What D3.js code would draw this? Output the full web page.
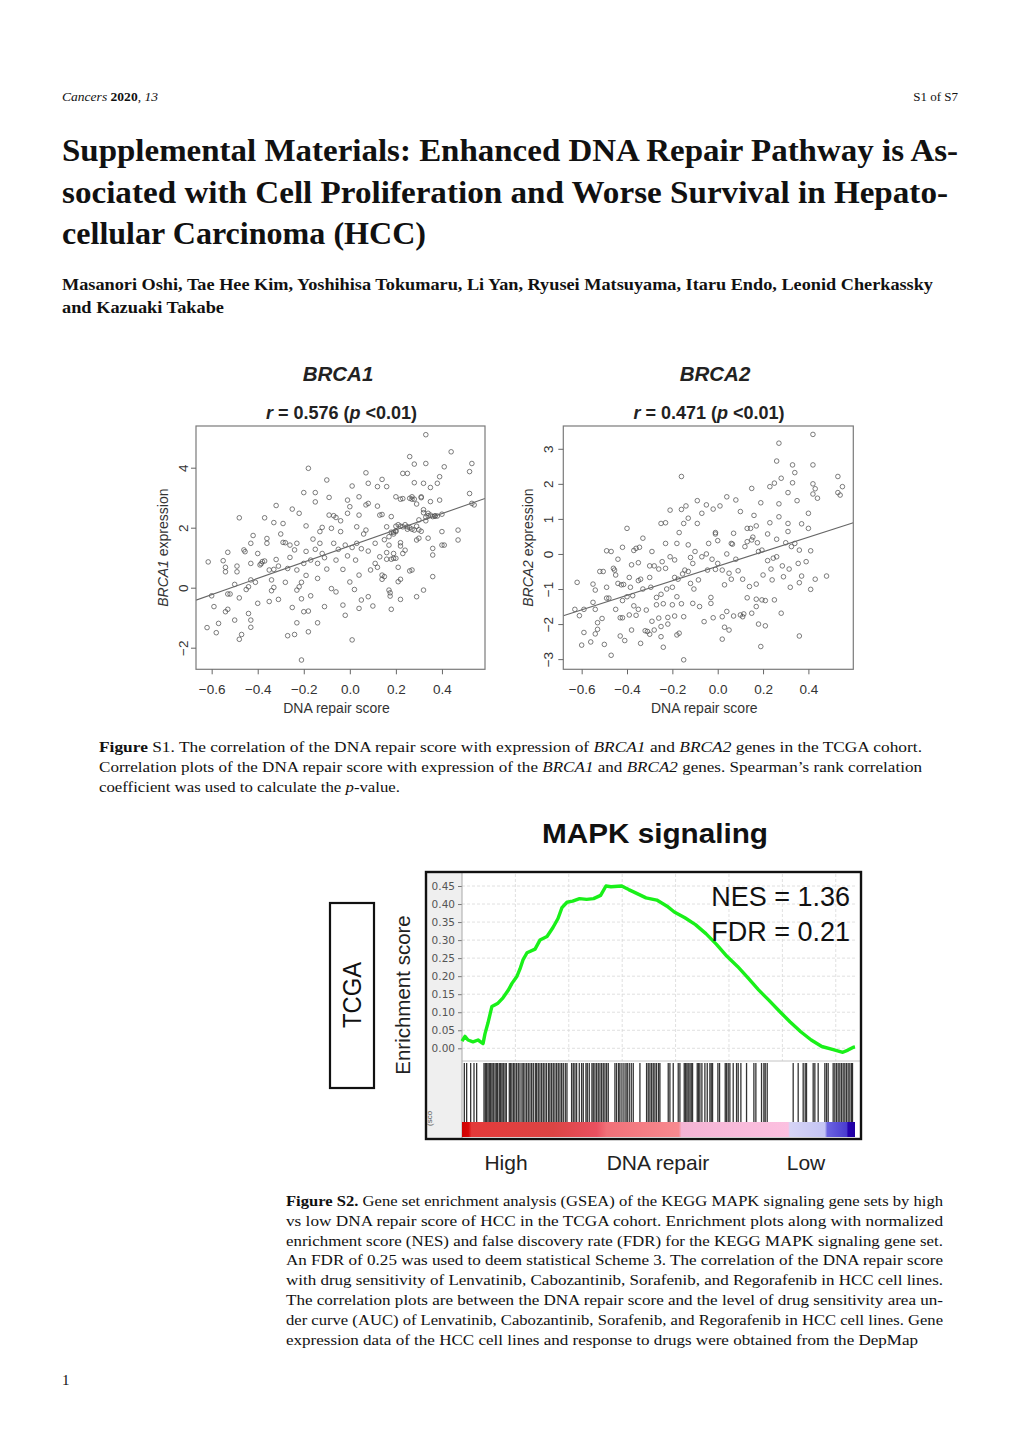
<!DOCTYPE html>
<html><head><meta charset="utf-8">
<script src="https://cdn.jsdelivr.net/npm/d3@7"></script>
<style>body{margin:0;background:#fff} svg{display:block}</style>
</head><body>
<script>
// ---------------- DATA ----------------
const brca1Points = [[-0.615,0.86],[-0.60,-0.27],[-0.59,-0.63],[-0.62,-1.33],[-0.58,-1.5],[-0.57,-1.19],[-0.55,0.9],[-0.54,0.53],[-0.54,0.68],[-0.53,1.18],[-0.53,-0.21],[-0.52,-0.21],[-0.53,-0.72],[-0.54,-0.8],[-0.50,0.11],[-0.49,0.72],[-0.49,0.53],[-0.48,-1.72],[-0.48,2.33],[-0.48,-0.34],[-0.50,-1.08],[-0.47,-1.56],[-0.46,1.26],[-0.455,1.2],[-0.45,-0.06],[-0.44,0.03],[-0.44,-0.86],[-0.43,1.48],[-0.43,0.81],[-0.43,0.26],[-0.43,-1.08],[-0.43,-1.32],[-0.42,1.74],[-0.41,0.18],[-0.40,-0.52],[-0.40,1.14],[-0.39,0.76],[-0.38,0.87],[-0.385,0.8],[-0.37,2.33],[-0.37,0.89],[-0.36,1.48],[-0.36,1.64],[-0.35,0.59],[-0.35,-0.46],[-0.34,0.26],[-0.34,-0.1],[-0.33,0.01],[-0.33,0.61],[-0.32,2.74],[-0.33,2.17],[-0.32,0.94],[-0.31,0.72],[-0.31,-0.39],[-0.30,1.79],[-0.29,1.51],[-0.29,2.14],[-0.28,0.18],[-0.28,1.5],[-0.27,-1.6],[-0.27,0.64],[-0.26,1.42],[-0.26,1.01],[-0.25,-0.66],[-0.25,2.62],[-0.24,1.26],[-0.24,-1.56],[-0.23,0.59],[-0.23,1.48],[-0.23,-0.08],[-0.23,-1.17],[-0.22,2.48],[-0.22,0.03],[-0.21,0.18],[-0.21,-2.41],[-0.21,-0.37],[-0.20,3.17],[-0.20,0.81],[-0.20,-0.8],[-0.19,2.06],[-0.19,0.41],[-0.19,1.21],[-0.18,3.98],[-0.18,-0.78],[-0.18,-1.47],[-0.17,0.92],[-0.17,-0.27],[-0.16,1.62],[-0.15,2.86],[-0.15,3.17],[-0.15,1.28],[-0.14,0.31],[-0.14,-1.17],[-0.14,0.81],[-0.13,1.87],[-0.13,1.48],[-0.12,2.01],[-0.12,1.14],[-0.11,1.0],[-0.11,-0.63],[-0.10,0.62],[-0.10,3.59],[-0.09,2.42],[-0.09,3.01],[-0.08,1.98],[-0.08,-0.03],[-0.07,2.4],[-0.07,1.48],[-0.06,-0.14],[-0.06,2.34],[-0.06,0.92],[-0.05,1.28],[-0.04,1.87],[-0.04,2.23],[-0.03,-0.58],[-0.03,0.61],[-0.02,1.42],[-0.02,-0.92],[-0.01,2.48],[-0.01,2.92],[-0.01,1.06],[0.0,0.19],[0.0,2.7],[0.01,1.34],[0.01,3.39],[0.01,-1.74],[0.02,-0.06],[0.025,0.92],[0.03,1.48],[0.03,2.03],[0.04,3.03],[0.04,2.42],[0.04,0.42],[0.04,-0.69],[0.05,1.3],[0.05,-0.41],[0.06,1.79],[0.07,2.76],[0.07,3.83],[0.07,1.92],[0.08,-0.3],[0.08,3.48],[0.08,2.81],[0.08,1.22],[0.09,0.59],[0.10,-0.61],[0.11,0.81],[0.11,1.48],[0.12,2.72],[0.12,3.37],[0.13,2.42],[0.13,1.03],[0.14,0.42],[0.14,3.61],[0.14,2.44],[0.15,0.37],[0.16,3.37],[0.16,1.17],[0.16,2.03],[0.17,-0.08],[0.17,1.42],[0.175,-0.17],[0.18,-0.72],[0.175,-0.28],[0.18,2.37],[0.19,1.79],[0.19,1.14],[0.20,3.03],[0.20,0.98],[0.20,1.87],[0.21,0.2],[0.22,1.39],[0.22,-0.39],[0.22,1.5],[0.23,3.81],[0.23,1.14],[0.23,2.03],[0.24,1.25],[0.25,2.03],[0.25,3.81],[0.26,2.98],[0.26,0.56],[0.26,4.37],[0.27,3.03],[0.27,0.59],[0.28,3.5],[0.28,1.92],[0.28,4.12],[0.29,-0.3],[0.29,1.59],[0.29,2.79],[0.30,2.26],[0.30,1.65],[0.31,3.03],[0.32,3.48],[0.32,-0.08],[0.32,2.5],[0.33,4.14],[0.33,5.1],[0.33,2.23],[0.34,1.65],[0.34,2.48],[0.35,2.87],[0.35,3.34],[0.36,1.09],[0.36,0.37],[0.36,1.31],[0.37,2.4],[0.38,2.39],[0.38,3.48],[0.39,2.92],[0.39,3.7],[0.40,1.87],[0.40,1.42],[0.40,2.45],[0.41,4.03],[0.41,1.42],[0.44,4.53],[0.47,1.92],[0.47,1.59],[0.52,3.14],[0.52,3.87],[0.53,4.14],[0.53,2.81],[0.54,2.76],[0.19,1.85],[0.2,2.05],[0.21,2.1],[0.22,2.05],[0.24,2.1],[0.25,1.95],[0.26,2.0],[0.27,1.95],[0.29,2.05],[0.3,1.93],[0.31,1.88],[0.33,2.35],[0.34,2.4],[0.35,2.42],[0.36,2.37],[0.37,2.38],[0.23,2.97],[0.22,2.95],[0.18,1.85],[0.2,1.9],[0.27,2.95],[0.28,2.95],[0.31,3.0],[0.32,2.6],[0.17,1.7],[0.15,1.6],[0.16,0.95],[0.18,0.95],[0.19,0.98],[0.21,0.68],[0.22,0.28],[0.14,0.28],[0.12,0.68]];

const brca2Points = [[-0.62,-0.81],[-0.63,-1.58],[-0.61,-1.76],[-0.60,-2.6],[-0.59,-1.58],[-0.59,-2.24],[-0.56,-2.51],[-0.55,-1.38],[-0.55,-0.86],[-0.54,-1.03],[-0.54,-2.28],[-0.54,-1.58],[-0.53,-1.96],[-0.53,-2.15],[-0.52,-0.5],[-0.51,-1.84],[-0.505,-0.5],[-0.50,-2.58],[-0.49,-0.95],[-0.49,-1.26],[-0.49,0.09],[-0.48,-1.26],[-0.47,0.07],[-0.47,-2.89],[-0.46,-0.41],[-0.455,-0.46],[-0.45,-0.6],[-0.45,-1.58],[-0.44,-0.15],[-0.44,-0.84],[-0.43,-1.82],[-0.43,-2.34],[-0.425,-0.88],[-0.42,-1.82],[-0.42,-1.33],[-0.415,-0.87],[-0.42,0.19],[-0.41,-2.47],[-0.40,-1.22],[-0.40,0.73],[-0.39,-1.74],[-0.39,-0.67],[-0.385,-0.95],[-0.38,-0.31],[-0.38,-2.17],[-0.375,-1.19],[-0.37,-1.48],[-0.37,0.1],[-0.36,0.16],[-0.36,-1.75],[-0.35,-0.76],[-0.35,-0.25],[-0.35,-1.58],[-0.345,0.19],[-0.34,-2.55],[-0.34,-0.72],[-0.33,0.45],[-0.33,-1.0],[-0.32,-2.19],[-0.315,-1.6],[-0.31,-2.21],[-0.30,-2.29],[-0.30,-0.67],[-0.30,-0.34],[-0.295,-0.95],[-0.29,-1.92],[-0.29,0.07],[-0.28,-2.17],[-0.28,-0.34],[-0.27,-1.24],[-0.27,-1.45],[-0.26,-1.83],[-0.26,-0.43],[-0.25,0.87],[-0.25,-1.15],[-0.25,-2.07],[-0.25,-2.36],[-0.245,-0.22],[-0.24,-2.66],[-0.24,-1.42],[-0.23,0.3],[-0.23,-0.41],[-0.23,0.89],[-0.225,-1.0],[-0.22,-1.81],[-0.22,-2.0],[-0.21,-0.08],[-0.21,1.25],[-0.20,-1.45],[-0.20,-0.95],[-0.19,-1.77],[-0.19,-0.67],[-0.19,-0.17],[-0.18,0.3],[-0.18,-1.22],[-0.18,-2.31],[-0.175,-0.72],[-0.17,0.61],[-0.17,-2.26],[-0.16,1.27],[-0.16,-1.42],[-0.16,2.21],[-0.155,-0.57],[-0.15,0.87],[-0.15,-3.02],[-0.15,-1.79],[-0.145,-0.46],[-0.14,1.37],[-0.13,1.02],[-0.13,-0.5],[-0.13,0.26],[-0.12,-0.84],[-0.12,-0.1],[-0.11,-1.41],[-0.11,-0.27],[-0.105,-1.0],[-0.10,0.07],[-0.09,1.52],[-0.09,0.87],[-0.085,-0.74],[-0.08,-1.5],[-0.07,1.16],[-0.07,-0.08],[-0.06,-1.93],[-0.05,0.0],[-0.045,-0.46],[-0.05,1.4],[-0.04,0.3],[-0.03,-1.24],[-0.03,-1.41],[-0.025,-0.15],[-0.02,-1.82],[-0.02,1.28],[-0.01,0.57],[-0.01,-0.44],[-0.01,0.61],[0.0,-0.27],[0.0,0.38],[0.01,1.37],[0.02,-1.79],[0.02,-2.43],[0.02,-0.46],[0.03,-0.88],[0.03,-2.09],[0.04,1.63],[0.04,0.0],[0.04,-1.64],[0.05,-0.55],[0.05,-2.17],[0.06,-0.72],[0.06,0.3],[0.065,0.28],[0.07,0.59],[0.07,-1.77],[0.08,-0.15],[0.08,1.54],[0.09,-0.48],[0.10,-1.74],[0.10,1.21],[0.11,-0.72],[0.11,-1.79],[0.115,-1.71],[0.12,0.21],[0.13,-1.25],[0.13,0.35],[0.13,0.73],[0.14,-0.93],[0.145,0.73],[0.15,1.87],[0.15,0.4],[0.15,-1.69],[0.155,0.48],[0.16,1.1],[0.17,-1.29],[0.17,0.8],[0.17,-0.86],[0.17,-1.5],[0.175,0.32],[0.18,-2.0],[0.18,0.07],[0.19,-2.64],[0.19,1.46],[0.195,-1.31],[0.195,0.11],[0.20,-0.6],[0.21,-1.33],[0.21,-2.05],[0.22,-0.19],[0.22,0.57],[0.23,1.92],[0.23,0.89],[0.235,-0.43],[0.24,-0.74],[0.245,-0.12],[0.25,2.02],[0.25,-1.31],[0.26,2.65],[0.26,-0.08],[0.26,0.42],[0.27,1.43],[0.27,3.16],[0.27,1.06],[0.28,2.16],[0.28,-1.69],[0.285,-0.34],[0.29,-0.65],[0.30,0.32],[0.31,0.64],[0.31,0.87],[0.31,1.75],[0.315,-0.43],[0.32,-0.95],[0.325,0.21],[0.33,2.54],[0.33,2.03],[0.34,2.32],[0.34,0.3],[0.35,1.52],[0.355,-0.27],[0.36,-2.34],[0.36,0.11],[0.36,-0.82],[0.37,0.86],[0.37,-0.63],[0.39,-0.22],[0.40,1.16],[0.40,0.73],[0.41,0.09],[0.41,-1.01],[0.42,3.41],[0.42,1.71],[0.42,2.54],[0.42,2.0],[0.43,1.86],[0.43,-0.72],[0.44,1.59],[0.48,-0.63],[0.53,2.21],[0.53,1.75],[0.54,1.68],[0.55,1.92]];

const scatterXTicks = [-0.6, -0.4, -0.2, 0.0, 0.2, 0.4];
const brca1YTicks = [-2, 0, 2, 4];
const brca2YTicks = [-3, -2, -1, 0, 1, 2, 3];
const brca1Fit = { intercept: 1.39, slope: 2.7 };
const brca2Fit = { intercept: -0.35, slope: 2.07 };

// GSEA running enrichment score
const esRank = [0,140,280,515,750,985,1075,1215,1400,1685,1920,2155,2340,2575,2715,2855,3045,3420,3650,3980,4260,4495,4680,4915,5180,5505,5835,6160,6490,6740,6975,7475,7805,8130,8615,9120,9600,9940,10435,10930,11420,11915,12405,12900,13390,13885,14375,14875,15365,15860,16350,16845,17340,17830,18070,18325,18400];
const esValue = [0.02,0.033,0.023,0.018,0.023,0.013,0.04,0.07,0.116,0.125,0.14,0.16,0.18,0.2,0.22,0.245,0.265,0.275,0.30,0.31,0.335,0.36,0.39,0.405,0.408,0.415,0.413,0.415,0.424,0.45,0.448,0.45,0.44,0.431,0.417,0.411,0.394,0.378,0.362,0.343,0.318,0.288,0.255,0.227,0.195,0.162,0.133,0.102,0.073,0.046,0.023,0.005,-0.003,-0.011,-0.005,0.003,0.004];
const esTicks = [0.00,0.05,0.10,0.15,0.20,0.25,0.30,0.35,0.40,0.45];
const rankGrid = [2500,5000,7500,10000,12500,15000,17500];
const hitRanks = [109,218,406,562,686,1030,1092,1154,1217,1279,1342,1404,1466,1544,1607,1669,1747,1810,1872,1934,2012,2075,2215,2278,2340,2418,2480,2558,2636,2714,2808,2870,2948,3026,3104,3182,3260,3338,3432,3494,3572,3650,3728,3806,3884,3962,4056,4118,4196,4274,4352,4430,4508,4586,4664,4742,4836,4914,5132,5210,5288,5366,5491,5600,5678,5803,5866,5959,6084,6146,6224,6302,6380,6458,6536,6614,6692,6770,6848,7160,7238,7332,7394,7488,7582,7675,7738,7831,7925,8018,8330,8642,8720,8798,8876,8954,9032,9110,9204,9266,9656,9734,9890,10124,10202,10405,10468,10530,10592,10670,10733,10795,11014,11076,11138,11232,11372,11482,11606,11669,11731,11981,12059,12324,12386,12464,12542,12698,12854,12932,13057,13322,13666,13759,14024,14134,14196,14290,15506,15740,15974,16068,16130,16442,16520,16676,16988,17066,17144,17378,17456,17534,17612,17690,17768,17846,17924,18002,18080,18158,18236,18283];
const rankColorStops = [[0,"#d00000"],[300,"#d80808"],[450,"#e43a3a"],[2500,"#e04040"],[4270,"#dc4444"],[6300,"#ea5060"],[6770,"#f07078"],[10150,"#f88a90"],[10280,"#f4b4d4"],[15270,"#fcc0e0"],[15350,"#d6d4f6"],[16990,"#c4c4f4"],[17100,"#6c64e0"],[18000,"#4a3cd0"],[18080,"#2400b0"],[18400,"#2000a0"]];
const gseaStats = ["NES = 1.36", "FDR = 0.21"];
const gseaAxisLabels = ["High", "DNA repair", "Low"];

// ---------------- DRAW ----------------
const W = 1020, H = 1442;
const svg = d3.select("body").append("svg").attr("width", W).attr("height", H);
svg.append("rect").attr("width", W).attr("height", H).attr("fill", "#fff");

const SERIF = "'Liberation Serif', 'DejaVu Serif', serif";
const SANS = "'Liberation Sans', Arial, sans-serif";

function rich(parent, x, y, segs, o) {
  const t = parent.append("text").attr("x", x).attr("y", y)
    .attr("font-family", o.family).attr("font-size", o.size).attr("fill", o.fill || "#111");
  if (o.anchor) t.attr("text-anchor", o.anchor);
  if (o.len) t.attr("textLength", o.len).attr("lengthAdjust", o.adjust || "spacingAndGlyphs");
  if (o.transform) t.attr("transform", o.transform);
  segs.forEach(([s, st]) => {
    const ts = t.append("tspan").text(s);
    if (st.includes("b")) ts.attr("font-weight", "bold");
    if (st.includes("i")) ts.attr("font-style", "italic");
  });
  return t;
}

// header
rich(svg, 62, 101, [["Cancers","i"],[" ",""],["2020","b"],[", ",""],["13","i"]], {family: SERIF, size: 13, len: 96});
rich(svg, 958, 101, [["S1 of S7",""]], {family: SERIF, size: 13, anchor: "end"});

// title
const titleLines = [
  ["Supplemental Materials: Enhanced DNA Repair Pathway is As-", 896],
  ["sociated with Cell Proliferation and Worse Survival in Hepato-", 886],
  ["cellular Carcinoma (HCC)", 364]];
titleLines.forEach((l, i) => rich(svg, 62, 161 + i * 41.5, [[l[0], "b"]], {family: SERIF, size: 32, len: l[1]}));

// authors
rich(svg, 62, 290, [["Masanori Oshi, Tae Hee Kim, Yoshihisa Tokumaru, Li Yan, Ryusei Matsuyama, Itaru Endo, Leonid Cherkassky", "b"]], {family: SERIF, size: 16.5, len: 871});
rich(svg, 62, 313, [["and Kazuaki Takabe", "b"]], {family: SERIF, size: 16.5, len: 162});

// scatter panels
function scatter(cfg) {
  const g = svg.append("g");
  const x = d3.scaleLinear().domain(cfg.xDomain).range([cfg.left, cfg.right]);
  const y = d3.scaleLinear().domain(cfg.yDomain).range([cfg.bottom, cfg.top]);
  const cid = "clip" + cfg.id;
  g.append("clipPath").attr("id", cid).append("rect")
    .attr("x", cfg.left).attr("y", cfg.top).attr("width", cfg.right - cfg.left).attr("height", cfg.bottom - cfg.top);
  g.append("g").attr("clip-path", `url(#${cid})`).selectAll("circle").data(cfg.points).join("circle")
    .attr("cx", d => x(d[0])).attr("cy", d => y(d[1])).attr("r", 2.3)
    .attr("fill", "none").attr("stroke", "#4a4a4a").attr("stroke-width", 0.8).attr("stroke-opacity", 0.9);
  const xs = cfg.xDomain;
  g.append("line").attr("clip-path", `url(#${cid})`)
    .attr("x1", x(xs[0])).attr("y1", y(cfg.fit.intercept + cfg.fit.slope * xs[0]))
    .attr("x2", x(xs[1])).attr("y2", y(cfg.fit.intercept + cfg.fit.slope * xs[1]))
    .attr("stroke", "#666").attr("stroke-width", 1.1);
  g.append("rect").attr("x", cfg.left).attr("y", cfg.top).attr("width", cfg.right - cfg.left).attr("height", cfg.bottom - cfg.top)
    .attr("fill", "none").attr("stroke", "#7a7a7a").attr("stroke-width", 1.2);
  const fmt = d => d3.format(".1f")(d).replace("-", "\u2212");
  const ax = g.append("g").attr("transform", `translate(0,${cfg.bottom})`)
    .call(d3.axisBottom(x).tickValues(scatterXTicks).tickSize(5).tickSizeOuter(0).tickPadding(10).tickFormat(fmt));
  ax.select(".domain").remove();
  ax.selectAll("line").attr("stroke", "#666");
  ax.selectAll("text").attr("font-family", SANS).attr("font-size", 13.5).attr("fill", "#333");
  const ay = g.append("g").attr("transform", `translate(${cfg.left},0)`)
    .call(d3.axisLeft(y).tickValues(cfg.yTicks).tickSize(5).tickSizeOuter(0).tickFormat(d => String(d).replace("-", "\u2212")));
  ay.select(".domain").remove();
  ay.selectAll("line").attr("stroke", "#666");
  ay.selectAll("text").attr("font-family", SANS).attr("font-size", 13.5).attr("fill", "#333")
    .attr("transform", "rotate(-90)").attr("x", 0).attr("y", -cfg.yLabOff).attr("dy", 0).attr("text-anchor", "middle");
  const cx = (cfg.left + cfg.right) / 2;
  rich(g, cfg.titleX, 381, [[cfg.name, "bi"]], {family: SANS, size: 20.5, anchor: "middle", fill: "#222"});
  rich(g, cfg.rX, 419, [["r","bi"],[" = " + cfg.r + " (","b"],["p","bi"],[" <0.01)","b"]], {family: SANS, size: 18, anchor: "middle", fill: "#222"});
  rich(g, cx - 4, 713, [["DNA repair score", ""]], {family: SANS, size: 14, anchor: "middle", fill: "#333"});
  rich(g, 0, 0, [[cfg.name, "i"], [" expression", ""]], {family: SANS, size: 14, anchor: "middle", fill: "#333",
    transform: `translate(${cfg.yLabX},${(cfg.top + cfg.bottom) / 2}) rotate(-90)`});
}

scatter({id: 1, name: "BRCA1", r: "0.576", points: brca1Points, fit: brca1Fit, yTicks: brca1YTicks,
  xDomain: [-0.668, 0.587], yDomain: [-2.72, 5.39], left: 196, right: 485, top: 426, bottom: 669.3,
  yLabOff: 8.5, yLabX: 168, titleX: 338, rX: 341.5});
scatter({id: 2, name: "BRCA2", r: "0.471", points: brca2Points, fit: brca2Fit, yTicks: brca2YTicks,
  xDomain: [-0.681, 0.598], yDomain: [-3.29, 3.65], left: 563.3, right: 853.3, top: 426, bottom: 669.3,
  yLabOff: 10.5, yLabX: 533, titleX: 715, rX: 709});

// caption S1
const capS1 = [
  [[["Figure","b"],[" S1. The correlation of the DNA repair score with expression of ",""],["BRCA1","i"],[" and ",""],["BRCA2","i"],[" genes in the TCGA cohort.",""]], 823],
  [[["Correlation plots of the DNA repair score with expression of the ",""],["BRCA1","i"],[" and ",""],["BRCA2","i"],[" genes. Spearman\u2019s rank correlation",""]], 823],
  [[["coefficient was used to calculate the ",""],["p","i"],["-value.",""]], 301]];
capS1.forEach((l, i) => rich(svg, 99, 752 + i * 19.8, l[0], {family: SERIF, size: 15, len: l[1]}));

// GSEA panel
const G = {left: 462, right: 855, top: 874, esBottom: 1061, hitTop: 1063, hitBottom: 1122, barBottom: 1137};
const gx = d3.scaleLinear().domain([0, 18400]).range([G.left, G.right]);
const gy = d3.scaleLinear().domain([0, 0.45]).range([1048.3, 886]);
const gg = svg.append("g");
rich(gg, 655, 843, [["MAPK signaling", "b"]], {family: SANS, size: 28, anchor: "middle", len: 226, fill: "#111"});
gg.append("rect").attr("x", 330).attr("y", 903).attr("width", 44).attr("height", 185).attr("fill", "none").attr("stroke", "#111").attr("stroke-width", 2.2);
rich(gg, 0, 0, [["TCGA", ""]], {family: SANS, size: 25, anchor: "middle", len: 66, fill: "#111", transform: "translate(361,995) rotate(-90)"});
rich(gg, 0, 0, [["Enrichment score", ""]], {family: SANS, size: 20.5, anchor: "middle", fill: "#222", transform: "translate(410,995) rotate(-90)"});
gg.append("rect").attr("x", 427).attr("y", 873).attr("width", G.left - 427).attr("height", 265).attr("fill", "#efefef");
gg.append("rect").attr("x", G.left).attr("y", 873).attr("width", 860 - G.left).attr("height", 265).attr("fill", "#fff");
// grid
gg.selectAll(".hg").data(esTicks).join("line").attr("x1", G.left).attr("x2", G.right)
  .attr("y1", d => gy(d)).attr("y2", d => gy(d)).attr("stroke", "#d8d8d8").attr("stroke-dasharray", "3,2").attr("stroke-width", 0.8);
gg.selectAll(".vg").data(rankGrid).join("line").attr("y1", G.top).attr("y2", G.esBottom)
  .attr("x1", d => gx(d)).attr("x2", d => gx(d)).attr("stroke", "#d8d8d8").attr("stroke-dasharray", "3,2").attr("stroke-width", 0.8);
gg.append("line").attr("x1", G.left).attr("x2", 860).attr("y1", G.esBottom).attr("y2", G.esBottom).attr("stroke", "#c4c4c4").attr("stroke-width", 1);
// y axis
const gax = gg.append("g").attr("transform", `translate(${G.left},0)`)
  .call(d3.axisLeft(gy).tickValues(esTicks).tickSize(4).tickSizeOuter(0).tickPadding(3).tickFormat(d3.format(".2f")));
gax.select(".domain").remove();
gax.selectAll("line").attr("stroke", "#777");
gax.selectAll("text").attr("font-family", "'DejaVu Sans', sans-serif").attr("font-size", 10.5).attr("fill", "#555");
gg.append("line").attr("x1", G.left).attr("x2", G.left).attr("y1", 873).attr("y2", 1138).attr("stroke", "#a8a8a8").attr("stroke-width", 1);
rich(gg, 0, 0, [["(sco", ""]], {family: SANS, size: 8, fill: "#555", transform: "translate(432,1126) rotate(-90)"});
// hits
gg.selectAll(".hit").data(hitRanks).join("line").attr("x1", d => gx(d)).attr("x2", d => gx(d))
  .attr("y1", G.hitTop).attr("y2", G.hitBottom).attr("stroke", "#111").attr("stroke-width", 1.3).attr("stroke-opacity", 0.85);
// color bar
const grad = svg.append("defs").append("linearGradient").attr("id", "rankGrad")
  .attr("gradientUnits", "userSpaceOnUse").attr("x1", G.left).attr("x2", G.right).attr("y1", 0).attr("y2", 0);
grad.selectAll("stop").data(rankColorStops).join("stop")
  .attr("offset", d => (gx(d[0]) - G.left) / (G.right - G.left)).attr("stop-color", d => d[1]);
gg.append("rect").attr("x", G.left).attr("y", G.hitBottom).attr("width", G.right - G.left).attr("height", G.barBottom - G.hitBottom).attr("fill", "url(#rankGrad)");
// ES curve
const esData = esRank.map((r, i) => [r, esValue[i]]);
gg.append("path").datum(esData).attr("d", d3.line().x(d => gx(d[0])).y(d => gy(d[1])))
  .attr("fill", "none").attr("stroke", "#19f019").attr("stroke-width", 3.4).attr("stroke-linejoin", "round");
// stats
gseaStats.forEach((s, i) => rich(gg, 850, 906 + i * 35, [[s, ""]], {family: SANS, size: 27, anchor: "end", fill: "#111"}));
// frame
gg.append("rect").attr("x", 426).attr("y", 872).attr("width", 435).attr("height", 267).attr("fill", "none").attr("stroke", "#111").attr("stroke-width", 2.4);
// bottom labels
const labX = [506, 658, 806];
gseaAxisLabels.forEach((s, i) => rich(gg, labX[i], 1170, [[s, ""]], {family: SANS, size: 21, anchor: "middle", fill: "#222"}));

// caption S2
const capS2 = [
  [[["Figure S2.","b"],[" Gene set enrichment analysis (GSEA) of the KEGG MAPK signaling gene sets by high",""]], 657],
  [[["vs low DNA repair score of HCC in the TCGA cohort. Enrichment plots along with normalized",""]], 657],
  [[["enrichment score (NES) and false discovery rate (FDR) for the KEGG MAPK signaling gene set.",""]], 657],
  [[["An FDR of 0.25 was used to deem statistical Scheme 3. The correlation of the DNA repair score",""]], 657],
  [[["with drug sensitivity of Lenvatinib, Cabozantinib, Sorafenib, and Regorafenib in HCC cell lines.",""]], 657],
  [[["The correlation plots are between the DNA repair score and the level of drug sensitivity area un-",""]], 657],
  [[["der curve (AUC) of Lenvatinib, Cabozantinib, Sorafenib, and Regorafenib in HCC cell lines. Gene",""]], 657],
  [[["expression data of the HCC cell lines and response to drugs were obtained from the DepMap",""]], 632]];
capS2.forEach((l, i) => rich(svg, 286, 1206 + i * 19.8, l[0], {family: SERIF, size: 15, len: l[1]}));

// page number
rich(svg, 62, 1385, [["1", ""]], {family: SERIF, size: 15});
</script>
</body></html>
